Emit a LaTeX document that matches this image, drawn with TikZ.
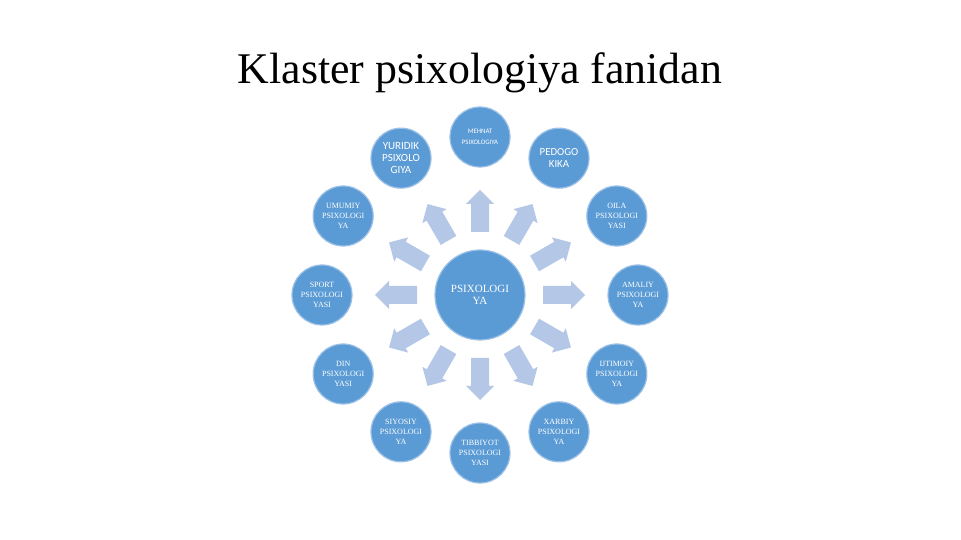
\documentclass[tikz,border=0pt]{standalone}
\usepackage{fontspec}
\usetikzlibrary{calc}
\setmainfont{Liberation Serif}
\newfontfamily\carlitofont{Carlito}
\definecolor{circfill}{HTML}{5B9BD5}
\definecolor{circedge}{HTML}{9DC1E6}
\definecolor{arrowc}{HTML}{B4C7E7}
\begin{document}
\begin{tikzpicture}[x=1pt,y=1pt,
  bub/.style={circle, fill=circfill, draw=circedge, line width=1.2pt, minimum size=60pt, inner sep=0pt, text=white, align=center},
  sertext/.style={font=\fontsize{8}{10}\selectfont},
  santext/.style={font=\carlitofont\fontsize{11}{12}\selectfont},
  blockarrow/.style={fill=arrowc}
]
\useasboundingbox (0,0) rectangle (961,540);
\fill[white] (0,0) rectangle (961,540);
\node[anchor=base, font=\fontsize{43.8}{50}\selectfont] (title) at (480,456) {Klaster psixologiya fanidan};
\coordinate (c) at (480,245);
% block arrows
\foreach \a in {0,30,...,330}{
  \fill[blockarrow, shift={(c)}, rotate=\a] (63,9) -- (91,9) -- (91,14) -- (105,0) -- (91,-14) -- (91,-9) -- (63,-9) -- cycle;
}
\node[bub, minimum size=90pt, font=\fontsize{11}{11.5}\selectfont] (center) at (c) {PSIXOLOGI\\YA};
\node[bub, font=\carlitofont\fontsize{6.8}{11}\selectfont] (mehnat) at ($(c)+(90:158)$) {MEHNAT\\PSIXOLOGIYA};
\node[bub, santext, font=\carlitofont\fontsize{10.8}{11.5}\selectfont] (pedo) at ($(c)+(60:158)$) {PEDOGO\\KIKA};
\node[bub, sertext] (oila) at ($(c)+(30:158)$) {OILA\\PSIXOLOGI\\YASI};
\node[bub, sertext] (amaliy) at ($(c)+(0:158)$) {AMALIY\\PSIXOLOGI\\YA};
\node[bub, sertext] (ijtimoiy) at ($(c)+(-30:158)$) {IJTIMOIY\\PSIXOLOGI\\YA};
\node[bub, sertext] (xarbiy) at ($(c)+(-60:158)$) {XARBIY\\PSIXOLOGI\\YA};
\node[bub, sertext] (tibbiyot) at ($(c)+(-90:158)$) {TIBBIYOT\\PSIXOLOGI\\YASI};
\node[bub, sertext] (siyosiy) at ($(c)+(-120:158)$) {SIYOSIY\\PSIXOLOGI\\YA};
\node[bub, sertext] (din) at ($(c)+(-150:158)$) {DIN\\PSIXOLOGI\\YASI};
\node[bub, sertext] (sport) at ($(c)+(180:158)$) {SPORT\\PSIXOLOGI\\YASI};
\node[bub, sertext] (umumiy) at ($(c)+(150:158)$) {UMUMIY\\PSIXOLOGI\\YA};
\node[bub, santext] (yuridik) at ($(c)+(120:158)$) {YURIDIK\\PSIXOLO\\GIYA};
\end{tikzpicture}
\end{document}
